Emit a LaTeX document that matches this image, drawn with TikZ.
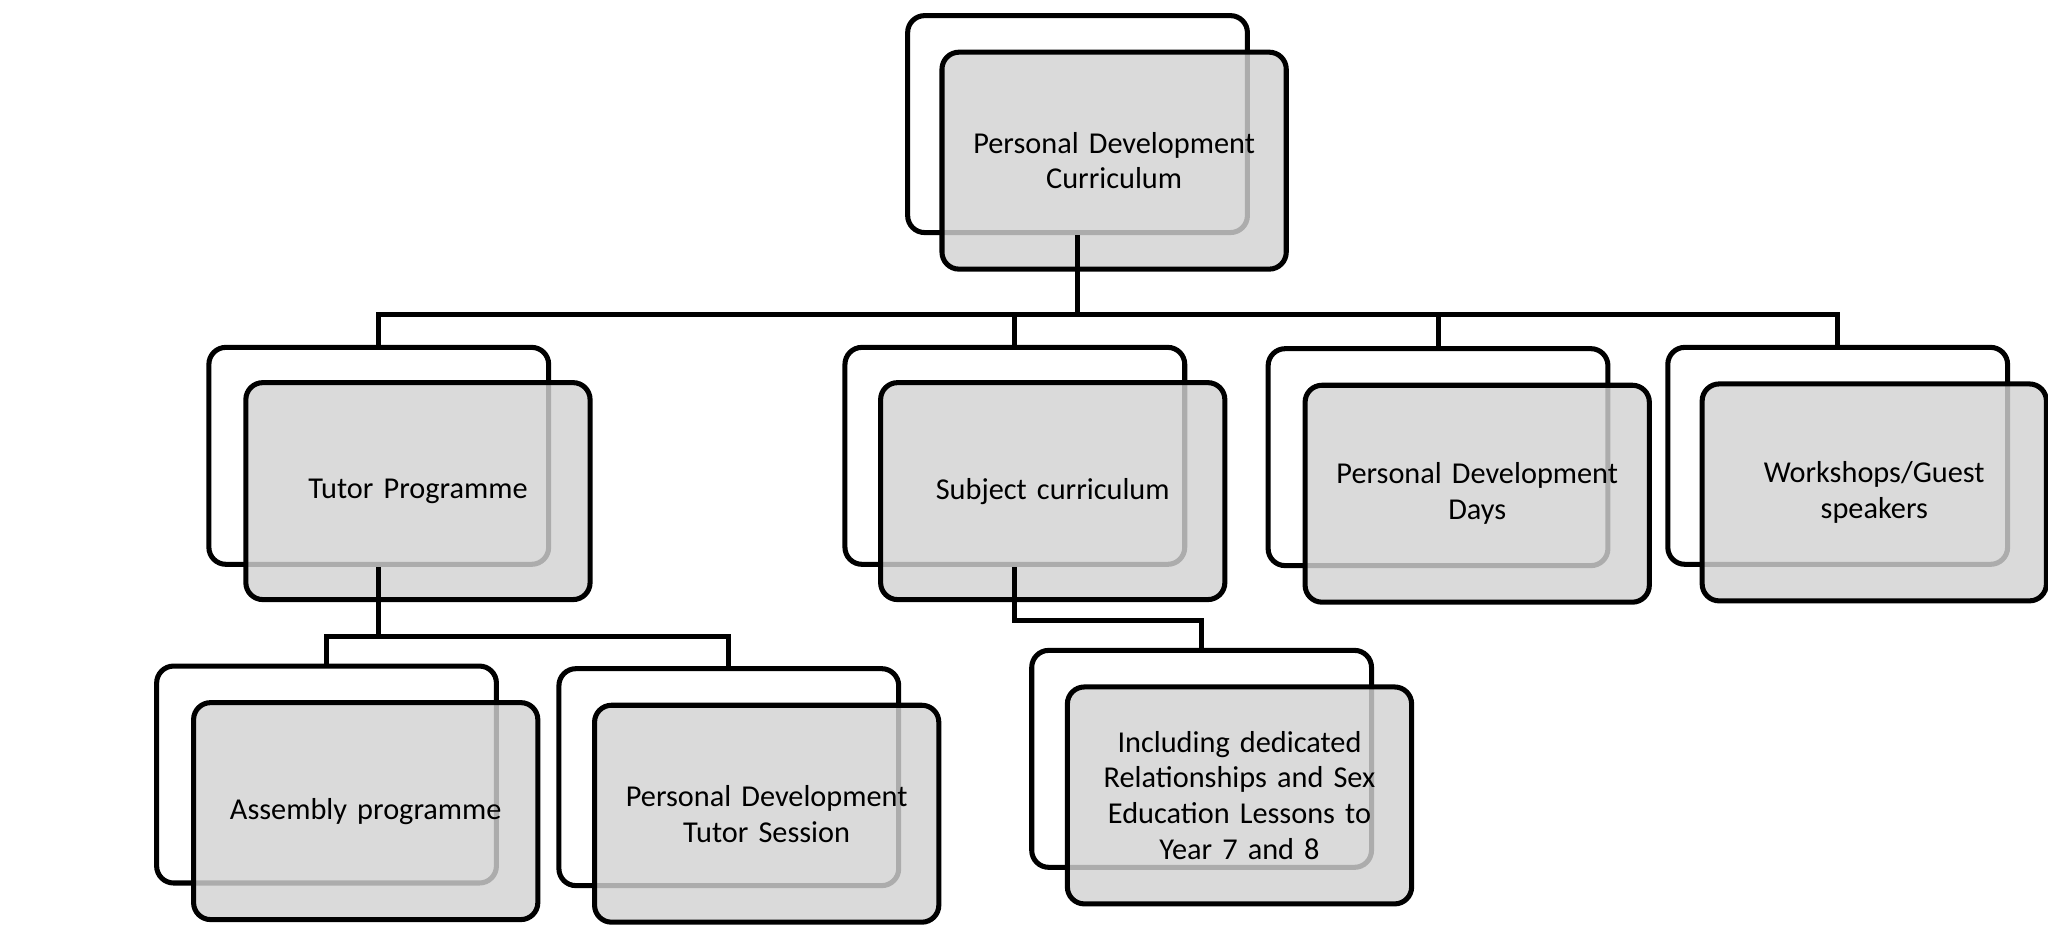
\documentclass[tikz,border=0pt]{standalone}
\usepackage{fontspec}
\setmainfont{Carlito}
\begin{document}
\begin{tikzpicture}[x=0.01cm,y=-0.01cm,
  backbox/.style={draw,line width=1.1pt,rounded corners=0.13cm,fill=white,minimum width=2.6cm,minimum height=1.66cm,inner sep=0pt},
  frontbox/.style={draw,line width=1.1pt,rounded corners=0.13cm,fill=gray!35,fill opacity=0.82,text opacity=1,minimum width=2.6cm,minimum height=1.66cm,align=center,font=\fontsize{6.6}{7.8}\selectfont,text width=2.4cm},
  link/.style={line width=1.1pt}]
 \useasboundingbox (0,0) rectangle (1568,724);
 % top
 \node[backbox] (pdcB) at (825,95) {};
 \node[frontbox] (pdc) at (853,123) {Personal Development\\Curriculum};
 % second level
 \node[backbox] (tutB) at (290,349) {};
 \node[frontbox] (tut) at (320,376) {Tutor Programme};
 \node[backbox] (subB) at (777,349) {};
 \node[frontbox] (sub) at (806,376) {Subject curriculum};
 \node[backbox] (pddB) at (1101,350) {};
 \node[frontbox] (pdd) at (1131,378) {Personal Development\\Days};
 \node[backbox] (wsB) at (1407,349) {};
 \node[frontbox] (ws) at (1435,377) {Workshops/Guest\\speakers};
 % third level
 \node[backbox] (asmB) at (250,593) {};
 \node[frontbox] (asm) at (280,621) {Assembly programme};
 \node[backbox] (ptsB) at (558,595) {};
 \node[frontbox] (pts) at (587,623) {Personal Development\\Tutor Session};
 \node[backbox] (rseB) at (920,581) {};
 \node[frontbox] (rse) at (949,609) {Including dedicated\\Relationships and Sex\\Education Lessons to\\Year 7 and 8};
 % connectors
 \begin{scope}[on background layer/.style={}]
 \end{scope}
 \coordinate (busA) at (825,241);
 \coordinate (busT) at (290,487);
 \coordinate (busS) at (777,475);
 \draw[link] (pdcB.south) -- (busA);
 \foreach \n in {tutB,subB,pddB,wsB}
   \draw[link] (busA) -| (\n.north);
 \draw[link] (tutB.south) -- (busT);
 \draw[link] (busT) -| (asmB.north);
 \draw[link] (busT) -| (ptsB.north);
 \draw[link] (subB.south) -- (busS) -| (rseB.north);
\end{tikzpicture}
\end{document}
